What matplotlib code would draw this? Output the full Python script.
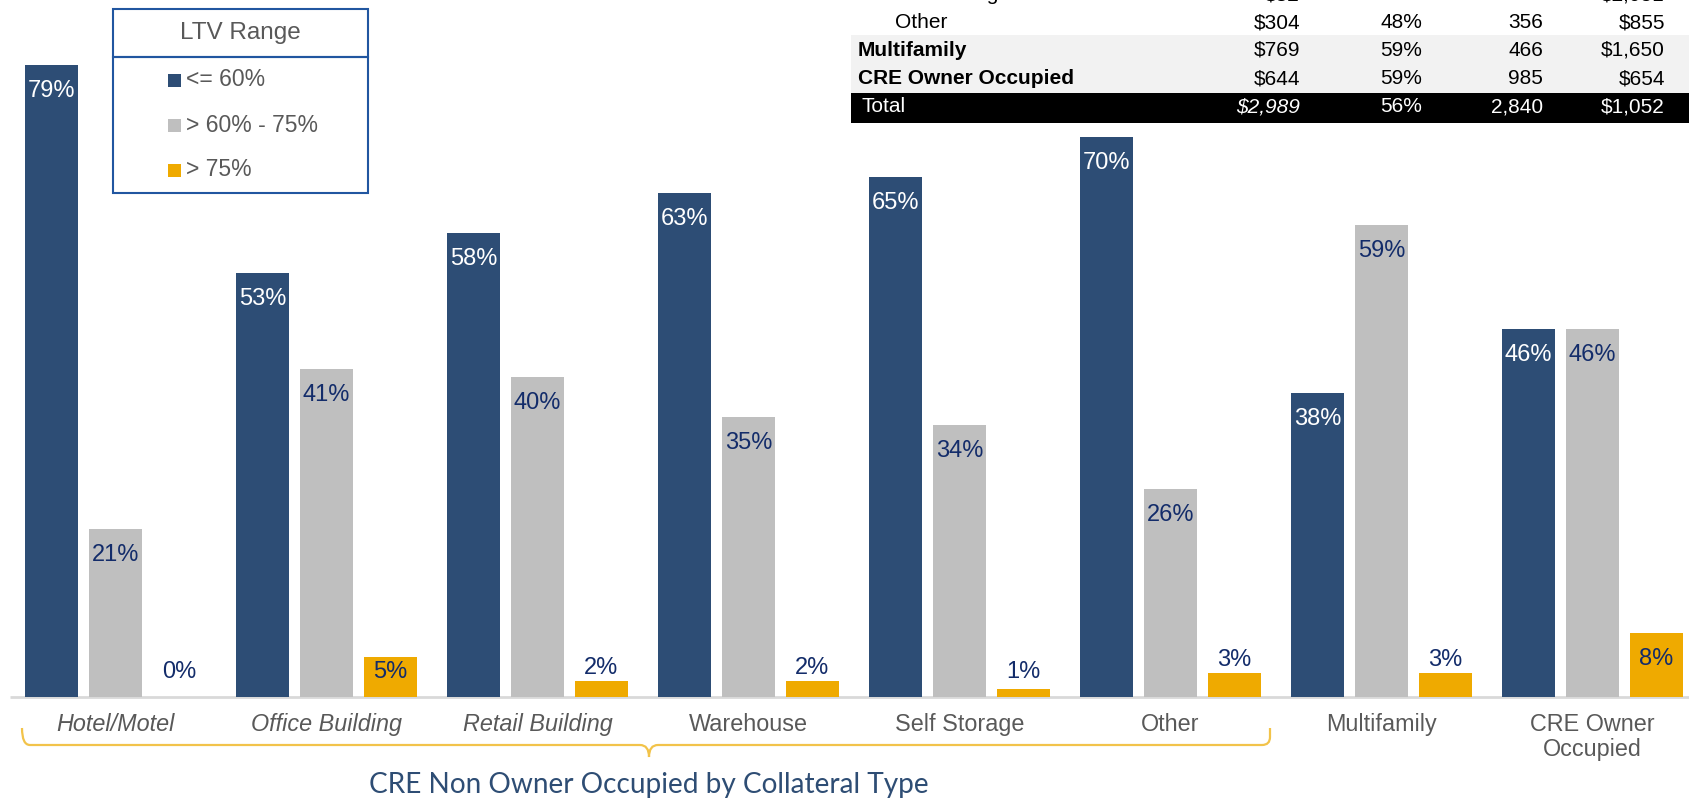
import matplotlib
matplotlib.use("Agg")
import matplotlib.pyplot as plt
import numpy as np
from matplotlib.patches import Rectangle
from matplotlib.path import Path
from matplotlib.patches import PathPatch

# ---------------- data ----------------
categories = ["Hotel/Motel", "Office Building", "Retail Building", "Warehouse",
              "Self Storage", "Other", "Multifamily", "CRE Owner\nOccupied"]
italic_cats = [True, True, True, False, False, False, False, False]
ltv_le60 = [79, 53, 58, 63, 65, 70, 38, 46]
ltv_60_75 = [21, 41, 40, 35, 34, 26, 59, 46]
ltv_gt75 = [0, 5, 2, 2, 1, 3, 3, 8]
series_names = ["<= 60%", "> 60% - 75%", "> 75%"]
legend_title = "LTV Range"
group_title = "CRE Non Owner Occupied by Collateral Type"

table_labels = ["Self Storage", "Other", "Multifamily", "CRE Owner Occupied", "Total"]
table_balance = ["$82", "$304", "$769", "$644", "$2,989"]
table_wavg_ltv = ["55%", "48%", "59%", "59%", "56%"]
table_count = ["40", "356", "466", "985", "2,840"]
table_avg = ["$2,051", "$855", "$1,650", "$654", "$1,052"]

# ---------------- style ----------------
C_BLUE = "#2d4d75"
C_GRAY = "#bfbfbf"
C_GOLD = "#efaa00"
C_NAVY = "#132c6a"
C_TXT = "#595959"
FONT = "Liberation Sans"

W, H = 1690, 801
fig = plt.figure(figsize=(W / 100, H / 100), dpi=100)
fig.patch.set_facecolor("white")

base_px = 697
ax = fig.add_axes([0, (H - base_px) / H, 1, base_px / H])
px_per_pct = 8.0
ax.set_ylim(0, base_px / px_per_pct)
g = 211.0
c0 = 115.5
ax.set_xlim(-c0 / g, (W - c0) / g)
ax.set_axis_off()

bw = 53 / g
off = 64 / g
xs = np.arange(len(categories))
series = [ltv_le60, ltv_60_75, ltv_gt75]
colors = [C_BLUE, C_GRAY, C_GOLD]
lab_colors = ["white", C_NAVY, C_NAVY]

for j, (vals, col, lc) in enumerate(zip(series, colors, lab_colors)):
    xpos = xs + (j - 1) * off
    ax.bar(xpos, vals, width=bw, color=col, linewidth=0, zorder=2)
    for x, v in zip(xpos, vals):
        if v >= 5:
            y = max(v - 3.3, 3.1)
            c = lc
        else:
            y = max(v + 1.6, 3.1)
            c = C_NAVY
        ax.text(x, y, f"{v}%", ha="center", va="center", color=c,
                fontsize=17, family=FONT, zorder=3)

# baseline
ax.plot([10 / W, 1], [0, 0], transform=ax.transAxes, color="#d9d9d9",
        lw=2, clip_on=False, zorder=1, solid_capstyle="butt")

# ---------------- overlay in pixel coords ----------------
ov = fig.add_axes([0, 0, 1, 1], zorder=5)
ov.set_xlim(0, W)
ov.set_ylim(H, 0)
ov.set_axis_off()
ov.patch.set_visible(False)

# category labels
for i, (cat, it) in enumerate(zip(categories, italic_cats)):
    xpx = c0 + g * i
    ov.text(xpx, 713, cat, ha="center", va="top", fontsize=16.8, family=FONT,
            color=C_TXT, style="italic" if it else "normal", linespacing=1.1)

# brace
verts = [(22, 728), (22, 745), (30, 745),
         (640, 745), (649, 745), (649, 757),
         (649, 745), (658, 745),
         (1262, 745), (1270, 745), (1270, 737), (1270, 728)]
codes = [Path.MOVETO, Path.CURVE3, Path.CURVE3,
         Path.LINETO, Path.CURVE3, Path.CURVE3,
         Path.CURVE3, Path.CURVE3,
         Path.LINETO, Path.CURVE3, Path.CURVE3, Path.LINETO]
ov.add_patch(PathPatch(Path(verts, codes), fill=False, edgecolor="#f2c34a", lw=1.6))

ov.text(649, 785, group_title, ha="center", va="center", fontsize=20.2,
        family="Lato", color="#2e4d74")

# legend
lc = "#2156a0"
ov.add_patch(Rectangle((113, 9), 255, 48, fill=False, edgecolor=lc, lw=1.5))
ov.add_patch(Rectangle((113, 57), 255, 136, fill=False, edgecolor=lc, lw=1.5))
ov.text(240, 33, legend_title, ha="center", va="center", fontsize=17.5,
        family=FONT, color=C_TXT)
for k, (name, col) in enumerate(zip(series_names, colors)):
    yc = 80 + 45 * k
    ov.add_patch(Rectangle((168, yc - 6.5), 13, 13, facecolor=col, edgecolor="none"))
    ov.text(186, yc, name, ha="left", va="center", fontsize=16.5,
            family=FONT, color=C_TXT)

# table
ov.add_patch(Rectangle((851, 35), W - 851, 58, facecolor="#f2f2f2", edgecolor="none"))
ov.add_patch(Rectangle((851, 93), W - 851, 30, facecolor="black", edgecolor="none"))
row_y = [-5, 23, 50, 79, 107]
col_x = [1300, 1422, 1543, 1665]
for r, lab in enumerate(table_labels):
    y = row_y[r]
    bold = lab in ("Multifamily", "CRE Owner Occupied")
    total = lab == "Total"
    tc = "white" if total else "black"
    lx = 895 if r < 2 else (862 if total else 858)
    ov.text(lx, y, lab, ha="left", va="center", fontsize=15 if bold else 15,
            family=FONT, fontweight="bold" if bold else "normal", color=tc)
    vals = [table_balance[r], table_wavg_ltv[r], table_count[r], table_avg[r]]
    for cidx, (cx, v) in enumerate(zip(col_x, vals)):
        st = "italic" if (total and cidx == 0) else "normal"
        ov.text(cx, y, v, ha="right", va="center", fontsize=15, family=FONT,
                color=tc, style=st)

fig.savefig("out.png", dpi=100, facecolor="white")
